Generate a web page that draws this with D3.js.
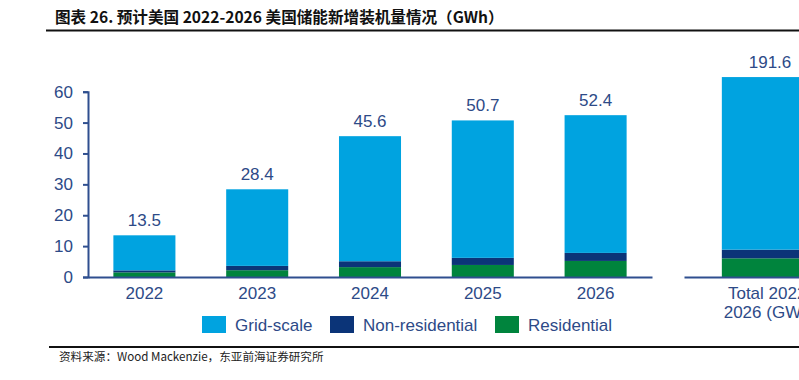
<!DOCTYPE html>
<html>
<head>
<meta charset="utf-8">
<script src="https://cdn.jsdelivr.net/npm/d3@7"></script>
<style>
  body { margin: 0; background: #fff; }
  svg { display: block; }
</style>
</head>
<body>
<div id="chart"></div>
<script>
// data (GWh)
var years = ["2022", "2023", "2024", "2025", "2026"];
var residential = [1.5, 2.2, 3.2, 3.9, 5.2];
var nonResidential = [0.65, 1.4, 1.9, 2.3, 2.6];
var gridScale = [11.35, 24.8, 40.5, 44.5, 44.6];
var totals = [13.5, 28.4, 45.6, 50.7, 52.4];

var totalLabel = ["Total 2022-", "2026 (GWh)"];
var totalParts = [17.9, 8.3, 165.4];   // residential, non-residential, grid-scale
var totalValue = 191.6;

var seriesNames = ["Grid-scale", "Non-residential", "Residential"];
var yTicks = [0, 10, 20, 30, 40, 50, 60];

var color = {"Residential": "#00843d", "Non-residential": "#0b3478", "Grid-scale": "#00a3e0"};
var textCol = "#2d4a87";
var axisCol = "#2f4f8f";

var width = 799, height = 380;

var svg = d3.select("#chart").append("svg")
    .attr("width", width)
    .attr("height", height);

// title
svg.append("text")
    .attr("x", 55).attr("y", 23)
    .style("font-family", "'Noto Sans CJK SC', sans-serif")
    .style("font-weight", "bold")
    .style("font-size", "15.6px")
    .attr("fill", "#111")
    .text("图表 26. 预计美国 2022-2026 美国储能新增装机量情况（GWh）");
svg.append("line")
    .attr("x1", 46).attr("x2", width).attr("y1", 30.5).attr("y2", 30.5)
    .attr("stroke", "#111").attr("stroke-width", 2);

// scales
var y = d3.scaleLinear().domain([0, 60]).range([277, 91.7]);
var yTot = d3.scaleLinear().domain([0, 200]).range([277, 68.3]);

var x = d3.scaleBand().domain(years).range([88, 652])
    .paddingInner(0.45).paddingOuter(0.225);
var xTot = d3.scaleBand().domain(["total"]).range([684, 856])
    .paddingInner(0.44).paddingOuter(0.22);

// stacked rows
var rows = years.map(function(yr, i) {
    return {year: yr, "Residential": residential[i], "Non-residential": nonResidential[i], "Grid-scale": gridScale[i], total: totals[i]};
});
var stack = d3.stack().keys(["Residential", "Non-residential", "Grid-scale"]);
var layers = stack(rows);

var g = svg.append("g");
g.selectAll("g.layer")
    .data(layers)
    .enter().append("g")
    .attr("class", "layer")
    .attr("fill", function(d) { return color[d.key]; })
  .selectAll("rect")
    .data(function(d) { return d; })
    .enter().append("rect")
    .attr("x", function(d) { return x(d.data.year); })
    .attr("width", x.bandwidth())
    .attr("y", function(d) { return y(d[1]); })
    .attr("height", function(d) { return y(d[0]) - y(d[1]); });

// total bar (own scale, axis is broken)
var totRow = [{key: "total", "Residential": totalParts[0], "Non-residential": totalParts[1], "Grid-scale": totalParts[2]}];
var totLayers = stack(totRow);
g.selectAll("rect.tot")
    .data(totLayers)
    .enter().append("rect")
    .attr("class", "tot")
    .attr("fill", function(d) { return color[d.key]; })
    .attr("x", xTot("total"))
    .attr("width", xTot.bandwidth())
    .attr("y", function(d) { return yTot(d[0][1]); })
    .attr("height", function(d) { return yTot(d[0][0]) - yTot(d[0][1]); });

// value labels
var labelFont = "'Liberation Sans', Arial, sans-serif";
g.selectAll("text.val")
    .data(rows)
    .enter().append("text")
    .attr("class", "val")
    .attr("x", function(d) { return x(d.year) + x.bandwidth() / 2; })
    .attr("y", function(d) { return y(d.total) - 9; })
    .attr("text-anchor", "middle")
    .style("font-family", labelFont).style("font-size", "17px")
    .attr("fill", textCol)
    .text(function(d) { return d3.format(".1f")(d.total); });
g.append("text")
    .attr("x", xTot("total") + xTot.bandwidth() / 2)
    .attr("y", yTot(totalValue) - 9)
    .attr("text-anchor", "middle")
    .style("font-family", labelFont).style("font-size", "17px")
    .attr("fill", textCol)
    .text(d3.format(".1f")(totalValue));

// y axis
var yAxis = svg.append("g")
    .attr("transform", "translate(88,0)")
    .call(d3.axisLeft(y).tickValues(yTicks).tickSizeOuter(0).tickSize(5).tickPadding(10));
yAxis.select(".domain").attr("stroke", axisCol).attr("stroke-width", 2);
yAxis.selectAll(".tick line").attr("stroke", axisCol).attr("stroke-width", 2);
yAxis.selectAll(".tick text")
    .style("font-family", labelFont).style("font-size", "17px")
    .attr("fill", textCol);

// x axis (broken into two segments)
var xAxis = svg.append("g")
    .attr("transform", "translate(0,277)")
    .call(d3.axisBottom(x).tickSize(0).tickPadding(10));
xAxis.select(".domain").attr("stroke", axisCol).attr("stroke-width", 2);
xAxis.selectAll(".tick text")
    .style("font-family", labelFont).style("font-size", "17px")
    .attr("fill", textCol);

var xAxis2 = svg.append("g")
    .attr("transform", "translate(0,277)")
    .call(d3.axisBottom(xTot).tickSize(0).tickFormat(""));
xAxis2.select(".domain").attr("stroke", axisCol).attr("stroke-width", 2);

svg.append("text")
    .attr("text-anchor", "middle")
    .style("font-family", labelFont).style("font-size", "17px")
    .attr("fill", textCol)
    .selectAll("tspan")
    .data(totalLabel)
    .enter().append("tspan")
    .attr("x", xTot("total") + xTot.bandwidth() / 2)
    .attr("y", function(d, i) { return 299 + i * 19; })
    .text(function(d) { return d; });

// legend
var legendX = [202, 330, 495];
var legend = svg.append("g").selectAll("g")
    .data(seriesNames)
    .enter().append("g")
    .attr("transform", function(d, i) { return "translate(" + legendX[i] + ",316)"; });
legend.append("rect")
    .attr("width", 24).attr("height", 17)
    .attr("fill", function(d) { return color[d]; });
legend.append("text")
    .attr("x", 33).attr("y", 15)
    .style("font-family", labelFont).style("font-size", "17px")
    .attr("fill", textCol)
    .text(function(d) { return d; });

// source
svg.append("line")
    .attr("x1", 49).attr("x2", width).attr("y1", 347).attr("y2", 347)
    .attr("stroke", "#111").attr("stroke-width", 2);
svg.append("text")
    .attr("x", 59).attr("y", 361)
    .style("font-family", "'Noto Sans CJK SC', serif")
    .style("font-size", "11.6px")
    .attr("fill", "#222")
    .text("资料来源：Wood Mackenzie，东亚前海证券研究所");
</script>
</body>
</html>
